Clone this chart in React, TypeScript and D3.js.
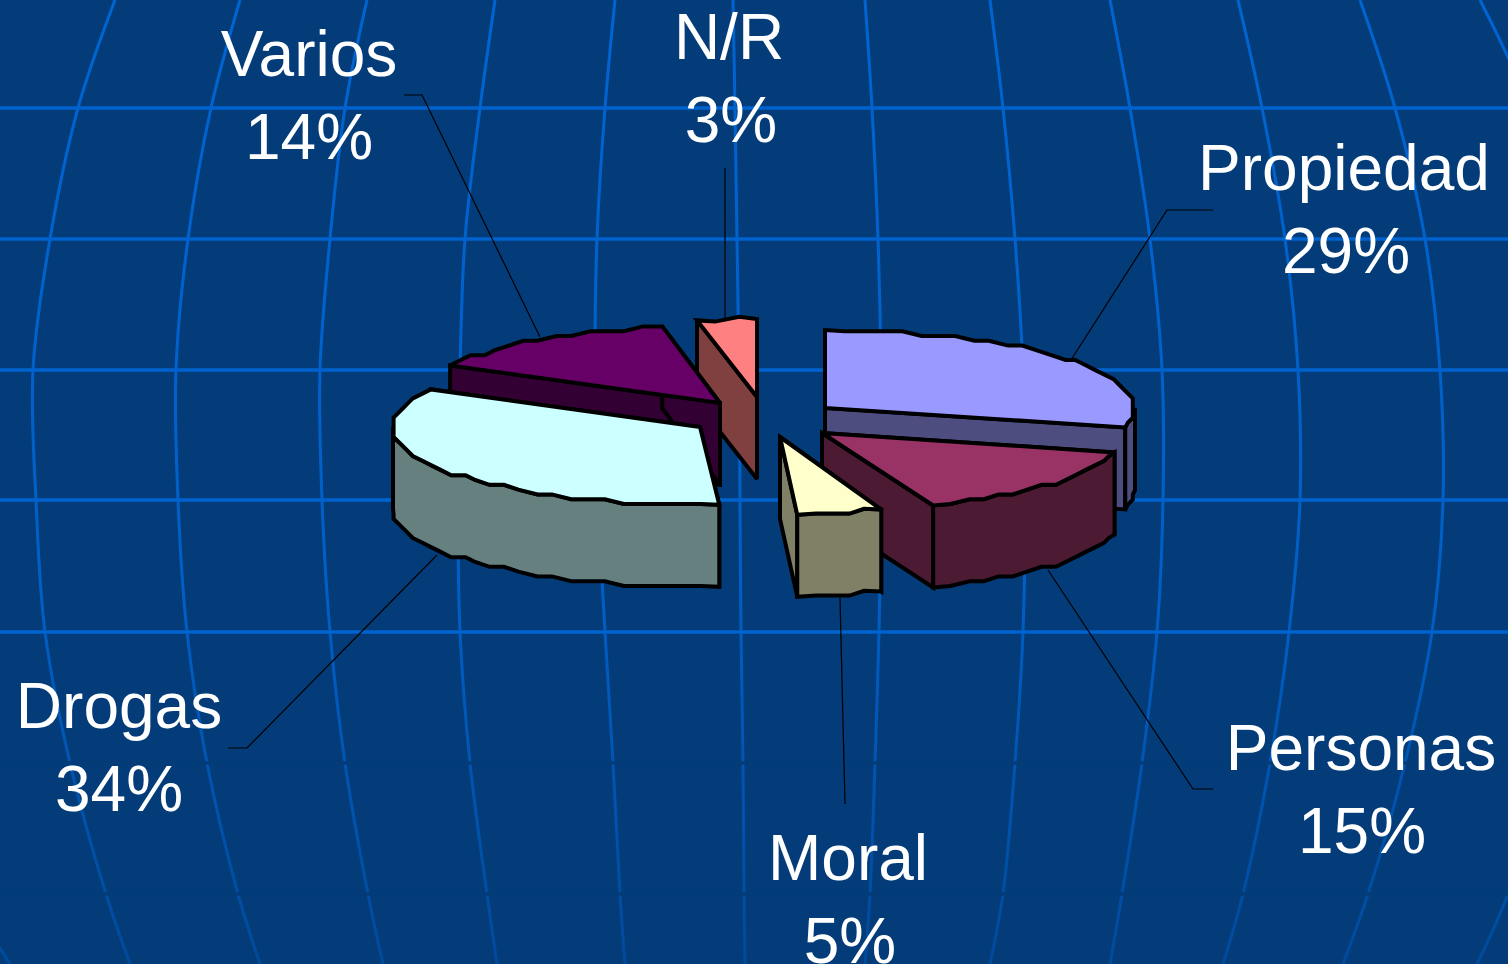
import React from "react";
import * as d3 from "d3";

// ---- data ----
const categories = ["Propiedad", "Personas", "Moral", "Drogas", "Varios", "N/R"];
const values = [29, 15, 5, 34, 14, 3];
const topColors = ["#9999ff", "#993366", "#ffffcc", "#ccffff", "#660066", "#ff8080"];
const sideColors = ["#4d4d80", "#4d1a33", "#808066", "#668080", "#330033", "#804040"];

// ---- layout of each exploded slice ----
const apexX = [825, 822, 780, 700, 720, 757];
const apexY = [408, 433, 437, 427, 403, 397];
const radii = [310, 302, 275, 307, 308, 320];
const drawOrder = ["N/R", "Varios", "Propiedad", "Drogas", "Personas", "Moral"];

const labelX = [1344, 1361, 848, 119, 309, 729];
const labelY = [190, 770, 880, 728, 76, 59];
const percentDx = [2, 1, 2, 0, 0, 2];

const leaderPaths: [number, number][][] = [
  [[1213, 210], [1167, 210], [1071, 360]],
  [[1213, 789], [1193, 789], [1048, 570]],
  [[845, 804], [840, 598]],
  [[228, 748], [247, 748], [437, 555]],
  [[404, 95], [422, 95], [540, 337]],
  [[725, 168], [725, 320]],
];

// ---- background grid ----
const gridSolidY = [108, 239, 370, 500, 632];
const gridGapY = [763, 894];
const meridianY = [0, 108, 239, 370, 500, 632, 763, 894, 964];
const meridians: number[][] = [
  [-160, -150, -135, -125, -120, -110, -70, -30, 10],
  [115, 78, 50, 33, 36, 45, 70, 106, 130],
  [240, 211, 188, 176, 178, 187, 207, 238, 260],
  [367, 345, 330, 320, 322, 330, 345, 368, 383],
  [495, 480, 465, 460, 458, 460, 470, 487, 497],
  [615, 605, 597, 595, 598, 605, 613, 620, 625],
  [733, 735, 737, 739, 740, 741, 743, 744, 745],
  [865, 872, 878, 881, 881, 879, 875, 870, 865],
  [990, 1003, 1015, 1023, 1025, 1023, 1015, 1003, 990],
  [1110, 1130, 1150, 1162, 1163, 1157, 1142, 1122, 1110],
  [1238, 1262, 1285, 1298, 1300, 1289, 1270, 1243, 1223],
  [1360, 1395, 1425, 1440, 1443, 1432, 1405, 1368, 1343],
  [1480, 1530, 1570, 1590, 1590, 1575, 1550, 1508, 1477],
];

const WIDTH = 1508;
const HEIGHT = 964;
const BG = "#033c78";
const DEPTH = 82;
const RY = 78;
const STEP = (3.6 * Math.PI) / 180;
const GRID = 4.8;

const q = (v: number) => Math.round(v / GRID) * GRID;

const pieData = d3
  .pie<number>()
  .sort(null)
  .startAngle(0)
  .endAngle(2 * Math.PI)(values);

const line = d3
  .line<[number, number]>()
  .x((d) => d[0])
  .y((d) => d[1]);

const gridLine = d3
  .line<[number, number]>()
  .x((d) => d[0])
  .y((d) => d[1])
  .curve(d3.curveCatmullRom.alpha(0.5));

function rim(i: number, a0: number, a1: number): [number, number][] {
  const pts: [number, number][] = [];
  const point = (a: number, snap: boolean): [number, number] => {
    const x = apexX[i] + radii[i] * Math.sin(a);
    const y = apexY[i] - RY * Math.cos(a);
    return snap ? [q(x), q(y)] : [x, y];
  };
  pts.push(point(a0, false));
  for (let a = Math.ceil(a0 / STEP + 0.2) * STEP; a < a1 - STEP * 0.2; a += STEP) {
    pts.push(point(a, true));
  }
  pts.push(point(a1, false));
  return pts;
}

const down = (pts: [number, number][]) =>
  pts.map((p) => [p[0], p[1] + DEPTH] as [number, number]);

function Slice({ i }: { i: number }) {
  const { startAngle: a0, endAngle: a1 } = pieData[i];
  const apex: [number, number] = [apexX[i], apexY[i]];
  const top = rim(i, a0, a1);
  const first = top[0];
  const last = top[top.length - 1];
  const wall = (e: [number, number]) =>
    line([apex, e, [e[0], e[1] + DEPTH], [apex[0], apex[1] + DEPTH]]) + "Z";
  const wa0 = Math.max(a0, Math.PI / 2);
  const wa1 = Math.min(a1, (3 * Math.PI) / 2);
  let outer: string | null = null;
  if (wa1 > wa0) {
    const r = rim(i, wa0, wa1);
    outer = line([...r, ...down(r).reverse()]) + "Z";
  }
  const common = {
    stroke: "#000",
    strokeWidth: 4,
    strokeLinejoin: "miter" as const,
    strokeMiterlimit: 2.5,
  };
  return (
    <g>
      <path d={wall(first)} fill={sideColors[i]} {...common} />
      <path d={wall(last)} fill={sideColors[i]} {...common} />
      {outer && <path d={outer} fill={sideColors[i]} {...common} />}
      <path d={line([apex, ...top]) + "Z"} fill={topColors[i]} {...common} />
    </g>
  );
}

export default function App() {
  return (
    <svg
      width={WIDTH}
      height={HEIGHT}
      viewBox={`0 0 ${WIDTH} ${HEIGHT}`}
      style={{ position: "fixed", left: 0, top: 0, display: "block" }}
    >
      <defs>
        <linearGradient id="meridian" gradientUnits="userSpaceOnUse" x1="0" y1="0" x2="0" y2={HEIGHT}>
          <stop offset="0" stopColor="#0064d2" />
          <stop offset="0.6" stopColor="#0060c8" />
          <stop offset="1" stopColor="#004a9c" />
        </linearGradient>
      </defs>
      <rect width={WIDTH} height={HEIGHT} fill={BG} />
      {meridians.map((m, i) => (
        <path
          key={i}
          d={gridLine(m.map((x, j) => [x, meridianY[j]] as [number, number])) || ""}
          fill="none"
          stroke="url(#meridian)"
          strokeWidth={3}
        />
      ))}
      {gridSolidY.map((y) => (
        <line key={y} x1={0} x2={WIDTH} y1={y} y2={y} stroke="#0062cf" strokeWidth={3.5} />
      ))}
      {gridGapY.map((y) => (
        <line key={y} x1={0} x2={WIDTH} y1={y} y2={y} stroke={BG} strokeWidth={3.5} />
      ))}
      {leaderPaths.map((p, i) => (
        <path key={i} d={line(p) || ""} fill="none" stroke="#000" strokeWidth={1.2} />
      ))}
      {drawOrder.map((name) => (
        <Slice key={name} i={categories.indexOf(name)} />
      ))}
      <g fontFamily="'Liberation Sans', Arial, sans-serif" fontSize={64} fill="#fff" textAnchor="middle">
        {categories.map((c, i) => (
          <g key={c}>
            <text x={labelX[i]} y={labelY[i]}>{c}</text>
            <text x={labelX[i] + percentDx[i]} y={labelY[i] + 82.5}>{values[i]}%</text>
          </g>
        ))}
      </g>
    </svg>
  );
}
